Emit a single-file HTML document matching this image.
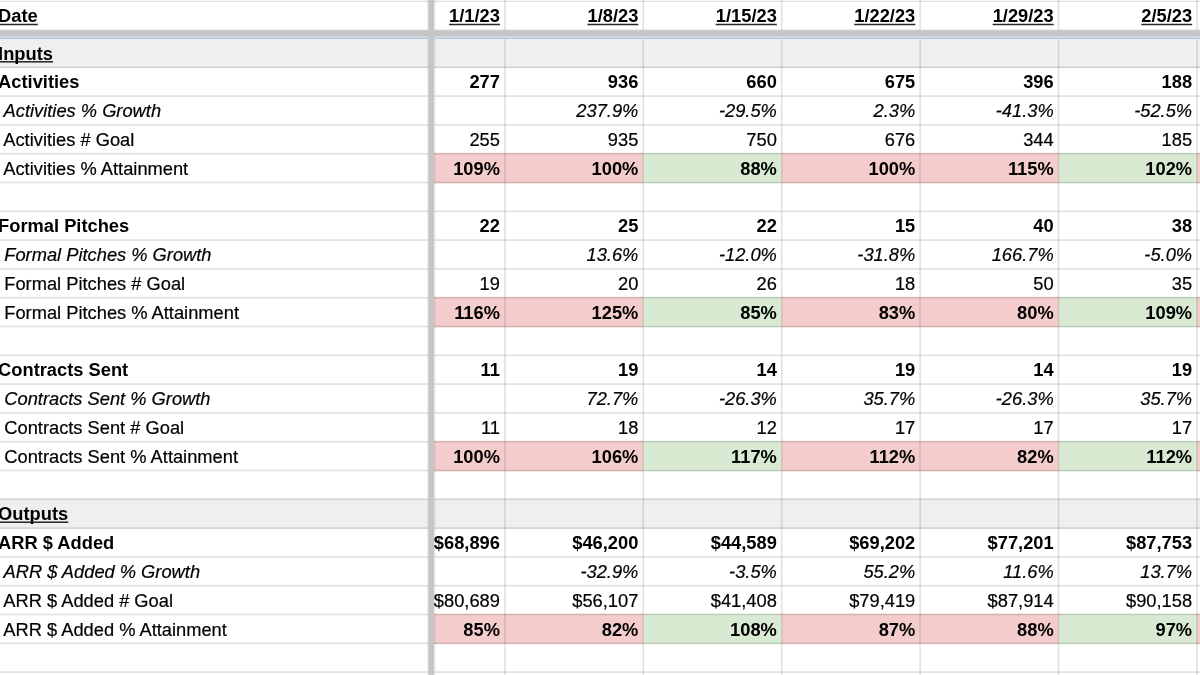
<!DOCTYPE html>
<html><head><meta charset="utf-8"><title>Sales Funnel Metrics</title>
<style>
html,body{margin:0;padding:0;background:#fff;}
body{width:1200px;height:675px;overflow:hidden;position:relative;}
svg{position:absolute;left:0;top:0;}
#tx{position:absolute;left:0;top:0;width:1200px;height:675px;will-change:transform;}
span{position:absolute;white-space:pre;font-family:"Liberation Sans",Arial,sans-serif;font-size:18.3px;line-height:21px;color:#000;-webkit-text-stroke:0.2px #000;}
.b{font-weight:bold;-webkit-text-stroke:0;}
.i{font-style:italic;}
</style></head><body>
<svg width="1200" height="675" viewBox="0 0 1200 675">
<rect x="0" y="0" width="1200" height="1" fill="#f7f7f7"/>
<rect x="0" y="39" width="1200" height="29.1" fill="#efefef"/>
<rect x="434" y="152.9" width="70.83" height="30.4" fill="#f4cccc"/>
<rect x="504.83" y="152.9" width="138.43" height="30.4" fill="#f4cccc"/>
<rect x="643.26" y="152.9" width="138.43" height="30.4" fill="#d9ead3"/>
<rect x="781.7" y="152.9" width="138.43" height="30.4" fill="#f4cccc"/>
<rect x="920.13" y="152.9" width="138.43" height="30.4" fill="#f4cccc"/>
<rect x="1058.57" y="152.9" width="138.43" height="30.4" fill="#d9ead3"/>
<rect x="1197" y="152.9" width="3" height="30.4" fill="#f4cccc"/>
<rect x="434" y="296.9" width="70.83" height="30.4" fill="#f4cccc"/>
<rect x="504.83" y="296.9" width="138.43" height="30.4" fill="#f4cccc"/>
<rect x="643.26" y="296.9" width="138.43" height="30.4" fill="#d9ead3"/>
<rect x="781.7" y="296.9" width="138.43" height="30.4" fill="#f4cccc"/>
<rect x="920.13" y="296.9" width="138.43" height="30.4" fill="#f4cccc"/>
<rect x="1058.57" y="296.9" width="138.43" height="30.4" fill="#d9ead3"/>
<rect x="1197" y="296.9" width="3" height="30.4" fill="#f4cccc"/>
<rect x="434" y="440.9" width="70.83" height="30.4" fill="#f4cccc"/>
<rect x="504.83" y="440.9" width="138.43" height="30.4" fill="#f4cccc"/>
<rect x="643.26" y="440.9" width="138.43" height="30.4" fill="#d9ead3"/>
<rect x="781.7" y="440.9" width="138.43" height="30.4" fill="#f4cccc"/>
<rect x="920.13" y="440.9" width="138.43" height="30.4" fill="#f4cccc"/>
<rect x="1058.57" y="440.9" width="138.43" height="30.4" fill="#d9ead3"/>
<rect x="1197" y="440.9" width="3" height="30.4" fill="#f4cccc"/>
<rect x="0" y="498.5" width="1200" height="30.4" fill="#efefef"/>
<rect x="434" y="613.7" width="70.83" height="30.4" fill="#f4cccc"/>
<rect x="504.83" y="613.7" width="138.43" height="30.4" fill="#f4cccc"/>
<rect x="643.26" y="613.7" width="138.43" height="30.4" fill="#d9ead3"/>
<rect x="781.7" y="613.7" width="138.43" height="30.4" fill="#f4cccc"/>
<rect x="920.13" y="613.7" width="138.43" height="30.4" fill="#f4cccc"/>
<rect x="1058.57" y="613.7" width="138.43" height="30.4" fill="#d9ead3"/>
<rect x="1197" y="613.7" width="3" height="30.4" fill="#f4cccc"/>
<g fill="#000" fill-opacity="0.12"><rect x="0" y="1" width="1200" height="1"/><rect x="0" y="66.5" width="1200" height="1.6"/><rect x="0" y="95.3" width="1200" height="1.6"/><rect x="0" y="124.1" width="1200" height="1.6"/><rect x="0" y="152.9" width="1200" height="1.6"/><rect x="0" y="181.7" width="1200" height="1.6"/><rect x="0" y="210.5" width="1200" height="1.6"/><rect x="0" y="239.3" width="1200" height="1.6"/><rect x="0" y="268.1" width="1200" height="1.6"/><rect x="0" y="296.9" width="1200" height="1.6"/><rect x="0" y="325.7" width="1200" height="1.6"/><rect x="0" y="354.5" width="1200" height="1.6"/><rect x="0" y="383.3" width="1200" height="1.6"/><rect x="0" y="412.1" width="1200" height="1.6"/><rect x="0" y="440.9" width="1200" height="1.6"/><rect x="0" y="469.7" width="1200" height="1.6"/><rect x="0" y="498.5" width="1200" height="1.6"/><rect x="0" y="527.3" width="1200" height="1.6"/><rect x="0" y="556.1" width="1200" height="1.6"/><rect x="0" y="584.9" width="1200" height="1.6"/><rect x="0" y="613.7" width="1200" height="1.6"/><rect x="0" y="642.5" width="1200" height="1.6"/><rect x="0" y="671.3" width="1200" height="1.6"/><rect x="504.08" y="0" width="1.5" height="675"/><rect x="642.51" y="0" width="1.5" height="675"/><rect x="780.95" y="0" width="1.5" height="675"/><rect x="919.38" y="0" width="1.5" height="675"/><rect x="1057.82" y="0" width="1.5" height="675"/><rect x="1196.25" y="0" width="1.5" height="675"/></g>
<rect x="427" y="0" width="1" height="675" fill="#000" fill-opacity="0.06"/>
<rect x="434" y="0" width="1" height="675" fill="#000" fill-opacity="0.08"/>
<rect x="435" y="0" width="1" height="675" fill="#000" fill-opacity="0.04"/>
<rect x="0" y="29" width="1200" height="1" fill="#000" fill-opacity="0.07"/>
<rect x="0" y="30.15" width="1200" height="5.85" fill="#c6c6c6"/>
<rect x="0" y="36" width="1200" height="2" fill="#cadaeb"/>
<rect x="0" y="38" width="1200" height="1" fill="#b7c7d7"/>
<rect x="428.2" y="0" width="5.8" height="675" fill="#c6c6c6"/>
<g fill="#000" fill-opacity="0.85"><rect x="-1.9" y="23.75" width="39.66" height="1.5"/><rect x="449.09" y="23.75" width="50.84" height="1.5"/><rect x="587.52" y="23.75" width="50.84" height="1.5"/><rect x="715.78" y="23.75" width="61.02" height="1.5"/><rect x="854.22" y="23.75" width="61.02" height="1.5"/><rect x="992.65" y="23.75" width="61.02" height="1.5"/><rect x="1141.26" y="23.75" width="50.84" height="1.5"/><rect x="-1.9" y="61.05" width="54.86" height="1.5"/><rect x="-1.9" y="521.45" width="70.11" height="1.5"/></g>
</svg>
<div id="tx">
<span class="b" style="left:-1.9px;top:5px">Date</span>
<span class="b" style="right:700.07px;top:5px">1/1/23</span>
<span class="b" style="right:561.64px;top:5px">1/8/23</span>
<span class="b" style="right:423.2px;top:5px">1/15/23</span>
<span class="b" style="right:284.77px;top:5px">1/22/23</span>
<span class="b" style="right:146.33px;top:5px">1/29/23</span>
<span class="b" style="right:7.9px;top:5px">2/5/23</span>
<span class="b" style="left:-1.9px;top:43px">Inputs</span>
<span class="b" style="left:-1.9px;top:71px">Activities</span>
<span class="b" style="right:700.07px;top:71px">277</span>
<span class="b" style="right:561.64px;top:71px">936</span>
<span class="b" style="right:423.2px;top:71px">660</span>
<span class="b" style="right:284.77px;top:71px">675</span>
<span class="b" style="right:146.33px;top:71px">396</span>
<span class="b" style="right:7.9px;top:71px">188</span>
<span class="i" style="left:-0.8px;top:100px"> Activities % Growth</span>
<span class="i" style="right:561.64px;top:100px">237.9%</span>
<span class="i" style="right:423.2px;top:100px">-29.5%</span>
<span class="i" style="right:284.77px;top:100px">2.3%</span>
<span class="i" style="right:146.33px;top:100px">-41.3%</span>
<span class="i" style="right:7.9px;top:100px">-52.5%</span>
<span style="left:-0.8px;top:129px"> Activities # Goal</span>
<span style="right:700.07px;top:129px">255</span>
<span style="right:561.64px;top:129px">935</span>
<span style="right:423.2px;top:129px">750</span>
<span style="right:284.77px;top:129px">676</span>
<span style="right:146.33px;top:129px">344</span>
<span style="right:7.9px;top:129px">185</span>
<span style="left:-0.8px;top:158px"> Activities % Attainment</span>
<span class="b" style="right:700.07px;top:158px">109%</span>
<span class="b" style="right:561.64px;top:158px">100%</span>
<span class="b" style="right:423.2px;top:158px">88%</span>
<span class="b" style="right:284.77px;top:158px">100%</span>
<span class="b" style="right:146.33px;top:158px">115%</span>
<span class="b" style="right:7.9px;top:158px">102%</span>
<span class="b" style="left:-1.9px;top:215px">Formal Pitches</span>
<span class="b" style="right:700.07px;top:215px">22</span>
<span class="b" style="right:561.64px;top:215px">25</span>
<span class="b" style="right:423.2px;top:215px">22</span>
<span class="b" style="right:284.77px;top:215px">15</span>
<span class="b" style="right:146.33px;top:215px">40</span>
<span class="b" style="right:7.9px;top:215px">38</span>
<span class="i" style="left:-0.8px;top:244px"> Formal Pitches % Growth</span>
<span class="i" style="right:561.64px;top:244px">13.6%</span>
<span class="i" style="right:423.2px;top:244px">-12.0%</span>
<span class="i" style="right:284.77px;top:244px">-31.8%</span>
<span class="i" style="right:146.33px;top:244px">166.7%</span>
<span class="i" style="right:7.9px;top:244px">-5.0%</span>
<span style="left:-0.8px;top:273px"> Formal Pitches # Goal</span>
<span style="right:700.07px;top:273px">19</span>
<span style="right:561.64px;top:273px">20</span>
<span style="right:423.2px;top:273px">26</span>
<span style="right:284.77px;top:273px">18</span>
<span style="right:146.33px;top:273px">50</span>
<span style="right:7.9px;top:273px">35</span>
<span style="left:-0.8px;top:302px"> Formal Pitches % Attainment</span>
<span class="b" style="right:700.07px;top:302px">116%</span>
<span class="b" style="right:561.64px;top:302px">125%</span>
<span class="b" style="right:423.2px;top:302px">85%</span>
<span class="b" style="right:284.77px;top:302px">83%</span>
<span class="b" style="right:146.33px;top:302px">80%</span>
<span class="b" style="right:7.9px;top:302px">109%</span>
<span class="b" style="left:-1.9px;top:359px">Contracts Sent</span>
<span class="b" style="right:700.07px;top:359px">11</span>
<span class="b" style="right:561.64px;top:359px">19</span>
<span class="b" style="right:423.2px;top:359px">14</span>
<span class="b" style="right:284.77px;top:359px">19</span>
<span class="b" style="right:146.33px;top:359px">14</span>
<span class="b" style="right:7.9px;top:359px">19</span>
<span class="i" style="left:-0.8px;top:388px"> Contracts Sent % Growth</span>
<span class="i" style="right:561.64px;top:388px">72.7%</span>
<span class="i" style="right:423.2px;top:388px">-26.3%</span>
<span class="i" style="right:284.77px;top:388px">35.7%</span>
<span class="i" style="right:146.33px;top:388px">-26.3%</span>
<span class="i" style="right:7.9px;top:388px">35.7%</span>
<span style="left:-0.8px;top:417px"> Contracts Sent # Goal</span>
<span style="right:700.07px;top:417px">11</span>
<span style="right:561.64px;top:417px">18</span>
<span style="right:423.2px;top:417px">12</span>
<span style="right:284.77px;top:417px">17</span>
<span style="right:146.33px;top:417px">17</span>
<span style="right:7.9px;top:417px">17</span>
<span style="left:-0.8px;top:446px"> Contracts Sent % Attainment</span>
<span class="b" style="right:700.07px;top:446px">100%</span>
<span class="b" style="right:561.64px;top:446px">106%</span>
<span class="b" style="right:423.2px;top:446px">117%</span>
<span class="b" style="right:284.77px;top:446px">112%</span>
<span class="b" style="right:146.33px;top:446px">82%</span>
<span class="b" style="right:7.9px;top:446px">112%</span>
<span class="b" style="left:-1.9px;top:503px">Outputs</span>
<span class="b" style="left:-1.9px;top:532px">ARR $ Added</span>
<span class="b" style="right:700.07px;top:532px">$68,896</span>
<span class="b" style="right:561.64px;top:532px">$46,200</span>
<span class="b" style="right:423.2px;top:532px">$44,589</span>
<span class="b" style="right:284.77px;top:532px">$69,202</span>
<span class="b" style="right:146.33px;top:532px">$77,201</span>
<span class="b" style="right:7.9px;top:532px">$87,753</span>
<span class="i" style="left:-0.8px;top:561px"> ARR $ Added % Growth</span>
<span class="i" style="right:561.64px;top:561px">-32.9%</span>
<span class="i" style="right:423.2px;top:561px">-3.5%</span>
<span class="i" style="right:284.77px;top:561px">55.2%</span>
<span class="i" style="right:146.33px;top:561px">11.6%</span>
<span class="i" style="right:7.9px;top:561px">13.7%</span>
<span style="left:-0.8px;top:590px"> ARR $ Added # Goal</span>
<span style="right:700.07px;top:590px">$80,689</span>
<span style="right:561.64px;top:590px">$56,107</span>
<span style="right:423.2px;top:590px">$41,408</span>
<span style="right:284.77px;top:590px">$79,419</span>
<span style="right:146.33px;top:590px">$87,914</span>
<span style="right:7.9px;top:590px">$90,158</span>
<span style="left:-0.8px;top:619px"> ARR $ Added % Attainment</span>
<span class="b" style="right:700.07px;top:619px">85%</span>
<span class="b" style="right:561.64px;top:619px">82%</span>
<span class="b" style="right:423.2px;top:619px">108%</span>
<span class="b" style="right:284.77px;top:619px">87%</span>
<span class="b" style="right:146.33px;top:619px">88%</span>
<span class="b" style="right:7.9px;top:619px">97%</span>
</div>
</body></html>
